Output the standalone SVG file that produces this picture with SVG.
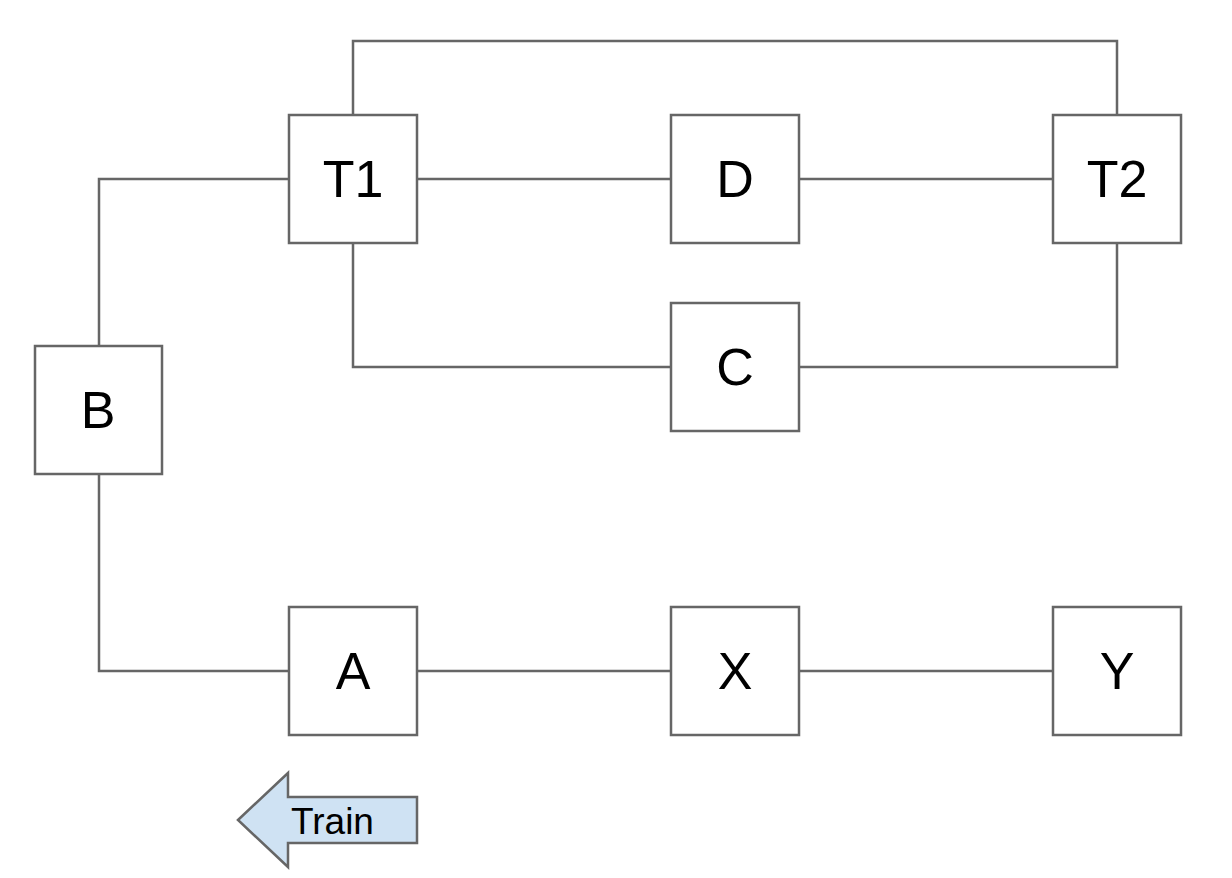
<svg xmlns="http://www.w3.org/2000/svg" width="1232" height="878" viewBox="0 0 1232 878">
<style>
.box{fill:#fff;stroke:#666;stroke-width:2.5}
.lbl{font-family:"Liberation Sans",Arial,sans-serif;font-size:52px;fill:#000;text-anchor:middle}
.con{fill:none;stroke:#666;stroke-width:2.5}
</style>
<rect width="1232" height="878" fill="#fff"/>
<g id="connectors">
<polyline class="con" points="353,115 353,41 1117,41 1117,115"/>
<polyline class="con" points="289,179 99,179 99,346"/>
<line class="con" x1="417" y1="179" x2="671" y2="179"/>
<line class="con" x1="799" y1="179" x2="1053" y2="179"/>
<polyline class="con" points="353,243 353,367 671,367"/>
<polyline class="con" points="799,367 1117,367 1117,243"/>
<polyline class="con" points="99,474 99,671 289,671"/>
<line class="con" x1="417" y1="671" x2="671" y2="671"/>
<line class="con" x1="799" y1="671" x2="1053" y2="671"/>
</g>
<g id="T1"><rect class="box" x="289" y="115" width="128" height="128"/><text class="lbl" x="353" y="197">T1</text></g>
<g id="D"><rect class="box" x="671" y="115" width="128" height="128"/><text class="lbl" x="735" y="197">D</text></g>
<g id="T2"><rect class="box" x="1053" y="115" width="128" height="128"/><text class="lbl" x="1117" y="197">T2</text></g>
<g id="C"><rect class="box" x="671" y="303" width="128" height="128"/><text class="lbl" x="735" y="385">C</text></g>
<g id="B"><rect class="box" x="35" y="346" width="127" height="128"/><text class="lbl" x="98" y="428">B</text></g>
<g id="A"><rect class="box" x="289" y="607" width="128" height="128"/><text class="lbl" x="353" y="689">A</text></g>
<g id="X"><rect class="box" x="671" y="607" width="128" height="128"/><text class="lbl" x="735" y="689">X</text></g>
<g id="Y"><rect class="box" x="1053" y="607" width="128" height="128"/><text class="lbl" x="1117" y="689">Y</text></g>
<g id="Train">
<polygon points="238,820 288,773 288,797 417,797 417,843 288,843 288,867" fill="#cfe2f3" stroke="#666" stroke-width="2.5"/>
<text x="291" y="834" font-family="Liberation Sans,Arial,sans-serif" font-size="37" fill="#000">Train</text>
</g>
</svg>
